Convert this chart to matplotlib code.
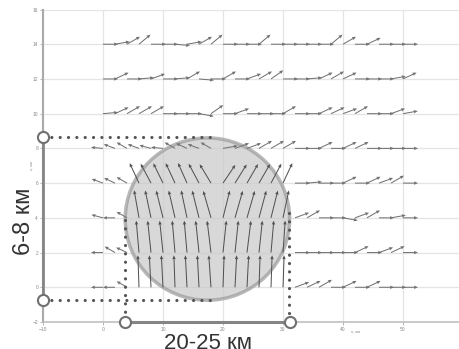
import numpy as np
import matplotlib
matplotlib.use("Agg")
import matplotlib.pyplot as plt
from matplotlib.patches import Ellipse

plt.rcParams['font.family'] = ['Liberation Sans', 'DejaVu Sans']

# arrow grid
x_grid = [0, 2, 4, 6, 8, 10, 12, 14, 16, 18, 20, 22, 24,
          26, 28, 30, 32, 34, 36, 38, 40, 42, 44, 46, 48, 50]
rows = [14, 12, 10, 8, 6, 4, 2, 0]

# arrow directions (deg, screen) per row, one per x_grid point
ang_14 = [0, 10, 30, 40, 0, 0, -5, 10, 30, 40, 0, 0, 0,
          40, 0, 0, 0, 0, 0, 40, 30, 0, 25, 0, 0, 0]
ang_12 = [0, 25, 0, 5, 20, 0, 5, 30, -5, 0, 30, 0, 20,
          30, 35, 0, 0, 5, 25, 30, 25, 0, 0, 0, 10, 25]
ang_10 = [5, 25, 30, 30, 30, 0, 0, 0, -10, 35, 0, 20, 0,
          0, 0, 30, 0, 0, 25, 25, 20, 30, 0, 0, 20, 10]
ang_8 = [175, 160, 150, 160, 165, 175, 150, 155, 160, 150, 10, 20, 20,
         30, 30, 30, 0, 0, 25, 0, 25, 25, 0, 0, 0, 0]
ang_6 = [160, 155, 150, 115, 118, 116, 115, 114, 118, 121, 56, 58, 60,
         60, 62, 65, 0, 5, 0, 0, 25, 0, 25, 20, 30, 0]
ang_4 = [165, 180, 150, 100, 102, 104, 103, 102, 104, 106, 76, 74, 74,
         75, 76, 78, 20, 30, 0, 0, -10, 20, 30, 0, 10, 0]
ang_2 = [180, 150, 155, 95, 96, 96, 95, 95, 96, 97, 84, 84, 83,
         84, 85, 86, 0, 0, 0, 0, 0, 25, 0, 20, 25, 0]
ang_0 = [180, 180, 150, 92, 93, 93, 92, 93, 93, 94, 88, 87, 87,
         88, 88, 88, 20, 25, 30, 0, 25, 0, 25, 0, 0, 0]
angles = [ang_14, ang_12, ang_10, ang_8, ang_6, ang_4, ang_2, ang_0]

# arrow lengths (pixels)
len_flow = 15
len_left = 12
len_inside = {6: 22, 4: 28, 2: 32, 0: 32}

# circle and dimension marks
circ_c = (17.4, 3.93)
circ_w, circ_h = 27.4, 9.35
dim_y = [8.64, -0.72]
dim_x = [3.7, 31.2]

fig = plt.figure(figsize=(4.59, 3.49), dpi=100)
ax = fig.add_axes([43/459, 27/349, 420/459, 312.5/349])
ax.set_xlim(-10, 60)
ax.set_ylim(-2, 16)
ax.set_xticks([-10, 0, 10, 20, 30, 40, 50])
ax.set_yticks([-2, 0, 2, 4, 6, 8, 10, 12, 14, 16])
ax.axvline(60, color='#e4e4e4', lw=0.9, zorder=0)
ax.grid(True, color='#e4e4e4', lw=0.9, zorder=0)
ax.tick_params(labelsize=3.5, labelcolor='#888888', color='#aaaaaa',
               length=2, width=0.6, pad=1.5)
for s in ['top', 'right']:
    ax.spines[s].set_visible(False)
ax.spines['left'].set_color('#aaaaaa')
ax.spines['left'].set_linewidth(1.5)
ax.spines['bottom'].set_color('#c0c0c0')
ax.spines['bottom'].set_linewidth(1.2)

ax.add_patch(Ellipse(circ_c, circ_w, circ_h, facecolor='#c8c8c8', alpha=0.7,
                     edgecolor='#9a9a9a', lw=2.5, zorder=2))

X, Y, U, V, C = [], [], [], [], []
for r, angs in zip(rows, angles):
    for x, a in zip(x_grid, angs):
        L = len_flow
        col = '#707070'
        if 90 <= a <= 180:
            L = len_left
        if r in len_inside and 6 <= x <= 30:
            L = len_inside[r]
            col = '#505050'
        X.append(x)
        Y.append(r)
        U.append(L*np.cos(np.radians(a)))
        V.append(L*np.sin(np.radians(a)))
        C.append(col)
ax.quiver(X, Y, U, V, color=C, angles='uv', scale_units='dots', scale=1,
          units='dots', width=1.0, headwidth=3.5, headlength=4,
          headaxislength=3.6, zorder=4)

dots = dict(color='#555555', lw=2.3, linestyle=(0, (0.01, 2.6)),
            dash_capstyle='round', zorder=5, clip_on=False)
ax.plot([-10, 18.5], [dim_y[0], dim_y[0]], **dots)
ax.plot([-10, 18.5], [dim_y[1], dim_y[1]], **dots)
ax.plot([dim_x[0], dim_x[0]], [3.9, -2], **dots)
ax.plot([31.0, 31.0], [4.3, -2], **dots)

ax.plot([-10, -10], dim_y, color='#858585', lw=2, zorder=6, clip_on=False)
ax.plot(dim_x, [-2, -2], color='#858585', lw=2.2, zorder=6, clip_on=False)
ax.plot([-10, -10, dim_x[0], dim_x[1]], [dim_y[0], dim_y[1], -2, -2], 'o',
        ms=8, mfc='white', mec='#707070', mew=1.5, zorder=7, clip_on=False)

ax.text(42, -2.6, 'x, км', fontsize=3, color='#888888', ha='center')
ax.text(-12.3, 7.0, 'z, км', fontsize=3, color='#888888', rotation=90,
        va='center')

fig.text(24/459, (349-221)/349, '6-8 км', fontsize=17, color='#333333',
         rotation=90, ha='center', va='center')
fig.text(208/459, 0.0, '20-25 км', fontsize=16, color='#333333',
         ha='center', va='baseline')

fig.savefig('out.png', dpi=100)
